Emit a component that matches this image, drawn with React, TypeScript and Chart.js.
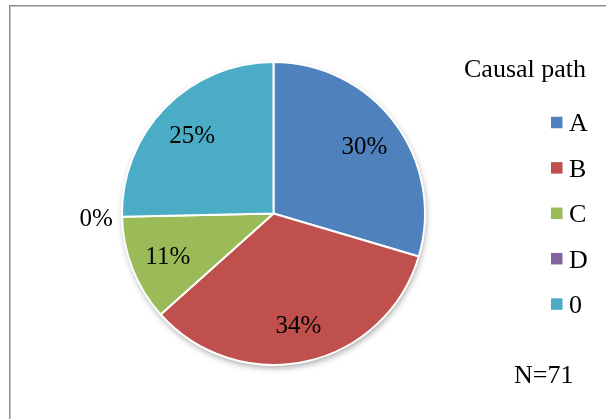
import React, { useEffect, useRef } from "react";
import { Chart, registerables } from "chart.js";

Chart.register(...registerables);

const categories = ["A", "B", "C", "D", "0"];
const counts = [21, 24, 8, 0, 18];
const colors = ["#4F81BD", "#C0504D", "#9BBB59", "#8064A2", "#4BACC6"];
const legendTitle = "Causal path";
const noteText = "N=71";

const FONT = "'Liberation Serif', 'Times New Roman', serif";

const shadowPlugin = {
  id: "pieShadow",
  beforeDatasetsDraw(chart: any) {
    const meta = chart.getDatasetMeta(0);
    const el = meta.data[0];
    if (!el) return;
    const { x, y, outerRadius } = el.getProps(["x", "y", "outerRadius"], true);
    const ctx = chart.ctx;
    ctx.save();
    ctx.shadowColor = "rgba(0,0,0,0.35)";
    ctx.shadowBlur = 6;
    ctx.shadowOffsetX = 1;
    ctx.shadowOffsetY = 3;
    ctx.fillStyle = "#ffffff";
    ctx.beginPath();
    ctx.arc(x, y, outerRadius, 0, Math.PI * 2);
    ctx.fill();
    ctx.restore();
  },
};

const labelPlugin = {
  id: "pieLabels",
  afterDatasetsDraw(chart: any) {
    const ctx = chart.ctx;
    const ds = chart.data.datasets[0];
    const values: number[] = ds.data as number[];
    const total = values.reduce((a, b) => a + b, 0);
    const meta = chart.getDatasetMeta(0);
    ctx.save();
    ctx.font = `25px ${FONT}`;
    ctx.fillStyle = "#000";
    ctx.textAlign = "center";
    ctx.textBaseline = "middle";
    meta.data.forEach((el: any, i: number) => {
      const { x, y, startAngle, endAngle, outerRadius } = el.getProps(
        ["x", "y", "startAngle", "endAngle", "outerRadius"],
        true
      );
      const mid = (startAngle + endAngle) / 2;
      const r = values[i] > 0 ? outerRadius * 0.75 : outerRadius + 26;
      const pct = Math.round((values[i] / total) * 100);
      ctx.fillText(`${pct}%`, x + r * Math.cos(mid), y + r * Math.sin(mid) + 2);
    });
    ctx.restore();
  },
};

const legendPlugin = {
  id: "sideLegend",
  afterDraw(chart: any) {
    const ctx = chart.ctx;
    const labels = chart.data.labels as string[];
    const bg = chart.data.datasets[0].backgroundColor as string[];
    ctx.save();
    ctx.fillStyle = "#000";
    ctx.font = `26px ${FONT}`;
    ctx.textAlign = "left";
    ctx.textBaseline = "alphabetic";
    ctx.fillText(legendTitle, 464, 77);
    labels.forEach((lab, i) => {
      const cy = 122.5 + i * 45.4;
      ctx.fillStyle = bg[i];
      ctx.fillRect(551, cy - 5.75, 11.5, 11.5);
      ctx.fillStyle = "#000";
      ctx.textBaseline = "middle";
      ctx.fillText(lab, 569, cy + 2);
    });
    ctx.textBaseline = "alphabetic";
    ctx.fillText(noteText, 514, 383);
    ctx.restore();
  },
};

export default function App() {
  const ref = useRef<HTMLCanvasElement | null>(null);
  useEffect(() => {
    if (!ref.current) return;
    const chart = new Chart(ref.current, {
      type: "pie",
      data: {
        labels: categories,
        datasets: [
          {
            data: counts,
            backgroundColor: colors,
            borderColor: "#ffffff",
            borderWidth: 2,
          },
        ],
      },
      options: {
        responsive: false,
        animation: false,
        layout: { padding: { left: 121, right: 180, top: 61, bottom: 53 } },
        plugins: {
          legend: { display: false },
          tooltip: { enabled: false },
        },
      },
      plugins: [shadowPlugin, labelPlugin, legendPlugin],
    });
    return () => chart.destroy();
  }, []);

  return (
    <div
      style={{
        position: "absolute",
        left: 0,
        top: 0,
        width: 606,
        height: 419,
        overflow: "hidden",
        background: "#fff",
      }}
    >
      <div
        style={{
          position: "absolute",
          left: 9,
          top: 5,
          width: 700,
          height: 500,
          border: "1px solid #8a8a8a",
          boxShadow: "inset 1px 1px 0 #c8c8c8",
        }}
      />
      <canvas
        ref={ref}
        width={606}
        height={419}
        style={{ position: "absolute", left: 0, top: 0, width: 606, height: 419 }}
      />
    </div>
  );
}
